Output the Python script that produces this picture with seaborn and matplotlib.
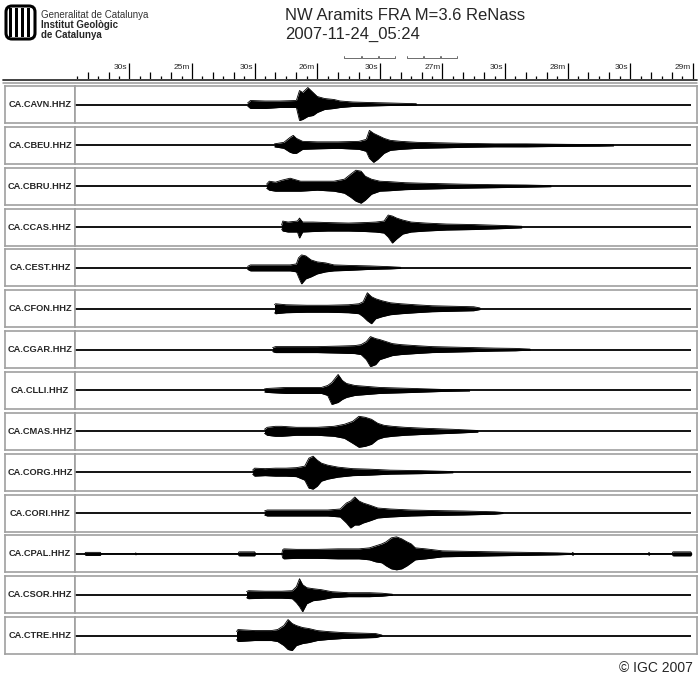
import pandas as pd
import matplotlib
matplotlib.use('Agg')
import matplotlib.pyplot as plt
from matplotlib.patches import FancyBboxPatch, Rectangle
import seaborn as sns


# stations (top to bottom)
stations = ['CA.CAVN.HHZ', 'CA.CBEU.HHZ', 'CA.CBRU.HHZ', 'CA.CCAS.HHZ', 'CA.CEST.HHZ',
            'CA.CFON.HHZ', 'CA.CGAR.HHZ', 'CA.CLLI.HHZ', 'CA.CMAS.HHZ', 'CA.CORG.HHZ',
            'CA.CORI.HHZ', 'CA.CPAL.HHZ', 'CA.CSOR.HHZ', 'CA.CTRE.HHZ']

# envelope: time (s after 05:24:00), upper / lower amplitude (px)
cavn_t = [86.6, 88, 95, 102, 110, 111.5, 113, 115.5, 118, 120, 123.5, 128, 131, 137, 145, 155, 167.5]
cavn_up = [1.5, 4, 3.5, 3.5, 4, 14, 12, 17, 12, 8, 6, 5, 3.5, 2.5, 2, 1.5, 0.8]
cavn_low = [1.5, 4, 4, 3, 3, 16, 15, 12, 11, 8, 5, 4, 3, 2, 1.5, 1, 0.5]

cbeu_t = [99.5, 101, 104, 107, 108.5, 110, 113, 120, 130, 140, 143.5, 145, 147, 149, 152, 155, 160,
          168, 180, 190, 205, 220, 240, 255, 262]
cbeu_up = [1.5, 2, 3, 8, 10, 7, 4, 3.5, 3.5, 4, 6, 15, 12, 10, 7, 5, 4, 3, 2.5, 2, 1.5, 1.5, 1, 0.8, 0.5]
cbeu_low = [1.5, 2, 3, 7, 8, 8, 4, 3.5, 3, 4, 6, 13, 17, 14, 8, 5, 4, 3, 2.5, 2, 1.5, 1.5, 1, 0.8, 0.5]

cbru_t = [95.7, 97, 100, 103, 107, 112, 120, 128, 133, 136, 138.5, 141, 143, 146, 150, 155, 162,
          170, 180, 190, 205, 220, 232]
cbru_up = [2, 5, 4, 6, 8, 5, 5, 5, 7, 12, 16, 15, 10, 7, 5, 4.5, 3.5, 3, 2.5, 2, 1.5, 1.2, 0.6]
cbru_low = [2, 4, 5, 5, 5, 5, 4, 5, 7, 11, 15, 17, 14, 8, 5, 4.5, 3.5, 3, 2.5, 2, 1.5, 1, 0.5]

ccas_t = [102.9, 103.5, 106, 110.5, 111.5, 113, 118, 125, 135, 143, 148, 152, 154, 156, 158, 161,
          165, 172, 182, 195, 210, 218]
ccas_up = [2, 6, 5, 6, 9, 5, 5, 4.5, 4, 4.5, 5, 6, 12, 11, 9, 7, 5, 4, 3, 2.5, 1.5, 0.8]
ccas_low = [2, 4, 5, 5, 11, 5, 4.5, 4, 4, 4.5, 5, 6, 10, 16, 12, 7, 5, 4, 3, 2.5, 1.5, 0.8]

cest_t = [86.6, 88, 95, 102, 107, 110, 111, 112.5, 114.5, 117, 120, 124, 128, 135, 145, 155, 160]
cest_up = [1.5, 3, 3, 3, 3, 4, 10, 13, 12, 8, 6, 5, 3, 2.5, 2, 1.2, 0.6]
cest_low = [1.5, 3, 3, 3, 3, 4, 9, 16, 11, 9, 6, 4, 3, 2.5, 1.5, 1, 0.5]

cfon_t = [99.5, 100, 105, 115, 125, 135, 140, 142, 144, 146, 148, 151, 155, 160, 167, 175, 185, 195, 198]
cfon_up = [4, 5, 4, 3.5, 3.5, 4, 5, 7, 16, 12, 10, 8, 6, 5, 4, 3, 2.5, 2, 0.8]
cfon_low = [4, 5, 4, 3.5, 3.5, 4, 5, 8, 12, 15, 10, 8, 6, 5, 4, 3, 2.5, 2, 0.8]

cgar_t = [98.6, 100, 110, 120, 130, 138, 141, 143.5, 145.5, 148, 150, 153, 156, 160, 167, 175, 185,
          195, 205, 215, 222]
cgar_up = [2, 3, 3, 3, 3.5, 4, 5, 8, 13, 11, 10, 8, 6, 5, 4, 3, 2.5, 2, 1.5, 1.2, 0.5]
cgar_low = [2, 3, 3, 3, 3.5, 4, 5, 10, 17, 15, 10, 8, 6, 5, 4, 3, 2.5, 2, 1.5, 1.2, 0.5]

clli_t = [94.7, 96, 105, 115, 122, 125, 127, 130, 132, 134, 138, 144, 150, 158, 166, 180, 193]
clli_up = [1.5, 2, 3, 3, 3, 5, 8, 16, 10, 7, 5, 4, 3, 2.5, 2, 1, 0.5]
clli_low = [1.5, 2, 3, 3, 3, 5, 14, 12, 9, 7, 5, 4, 3, 2.5, 2, 1, 0.5]

cmas_t = [94.7, 96, 100, 103, 110, 120, 128, 133, 137, 140, 143, 146, 149, 152, 156, 162, 172, 185, 197]
cmas_up = [2, 4, 5, 5, 4, 4, 5, 7, 10, 15, 14, 12, 8, 6, 5, 4, 3, 2, 0.8]
cmas_low = [2, 4, 5, 5, 4, 4, 5, 7, 12, 16, 15, 13, 8, 6, 5, 4, 3, 2, 0.8]

corg_t = [89, 90, 95, 100, 105, 110, 114, 116, 118, 120, 122, 125, 130, 137, 145, 155, 170, 185]
corg_up = [2, 4, 3.5, 4, 4, 4.5, 6, 14, 16, 12, 9, 7, 5, 3.5, 3, 2, 1.5, 0.6]
corg_low = [2, 4, 3.5, 4, 4, 4.5, 8, 16, 17, 14, 9, 7, 5, 3.5, 3, 2, 1.5, 0.6]

cori_t = [94.7, 96, 105, 115, 125, 131, 134, 136, 138, 140, 142, 145, 149, 155, 165, 175, 190, 205, 209]
cori_up = [2, 3, 3, 3, 3, 4, 10, 12, 16, 12, 10, 8, 5, 4, 3, 2.5, 2, 1.2, 0.5]
cori_low = [2, 3, 3, 3, 3, 4, 10, 15, 12, 12, 10, 8, 5, 4, 3, 2.5, 2, 1.2, 0.5]

cpal_t = [8.5, 9, 16, 16.5, 32.5, 33, 33.5, 82, 82.5, 90, 90.5, 103, 103.4, 104, 110, 120, 130, 140,
          145, 148, 151, 153, 155.5, 158, 160.5, 163, 165, 167, 172, 180, 192, 205, 220, 235, 242,
          242.5, 243, 278.5, 279, 279.5, 290, 290.5, 299, 299.5]
cpal_up = [0, 1.5, 1.5, 0, 0, 1, 0, 0, 2, 2, 0, 0, 4, 5, 4.5, 4.5, 5, 5,
           6, 8, 10, 12, 16, 17, 15, 12, 10, 6, 5, 3, 2.5, 2, 1.5, 1, 0.5,
           1.5, 0, 0, 1.5, 0, 0, 2, 2, 0]
cpal_low = [0, 1.5, 1.5, 0, 0, 1, 0, 0, 2, 2, 0, 0, 4, 5, 4.5, 4.5, 5, 5,
            6, 8, 9, 12, 15, 16, 15, 12, 9, 6, 5, 3, 2.5, 2, 1.5, 1, 0.5,
            1.5, 0, 0, 1.5, 0, 0, 2, 2, 0]

csor_t = [86.1, 87, 95, 103, 108, 110, 111.5, 113, 115, 118, 122, 127, 135, 145, 151, 156]
csor_up = [3, 4, 3.5, 3.5, 4, 8, 16, 10, 7, 6, 5, 3, 2, 2, 1.5, 0.5]
csor_low = [3, 4, 3.5, 3.5, 4, 8, 12, 17, 9, 6, 5, 3, 2, 2, 1.5, 0.5]

ctre_t = [81.3, 82, 90, 98, 101, 104, 106, 108, 110, 113, 116, 120, 125, 132, 140, 148, 151]
ctre_up = [4, 6, 5, 5, 6, 10, 16, 12, 10, 8, 7, 5, 4, 3, 2.5, 2, 0.5]
ctre_low = [4, 6, 5, 5, 6, 10, 14, 15, 10, 8, 7, 5, 4, 3, 2.5, 2, 0.5]

traces = [(cavn_t, cavn_up, cavn_low), (cbeu_t, cbeu_up, cbeu_low), (cbru_t, cbru_up, cbru_low),
          (ccas_t, ccas_up, ccas_low), (cest_t, cest_up, cest_low), (cfon_t, cfon_up, cfon_low),
          (cgar_t, cgar_up, cgar_low), (clli_t, clli_up, clli_low), (cmas_t, cmas_up, cmas_low),
          (corg_t, corg_up, corg_low), (cori_t, cori_up, cori_low), (cpal_t, cpal_up, cpal_low),
          (csor_t, csor_up, csor_low), (ctre_t, ctre_up, ctre_low)]

# time axis
tick_major = [30, 60, 90, 120, 150, 180, 210, 240, 270, 300]
tick_labels = ['30s', '25m', '30s', '26m', '30s', '27m', '30s', '28m', '30s', '29m']
bracket_start = [132.6, 141.3, 149.4, 162.9, 171.0, 179.2]
bracket_end = [140.8, 149.0, 157.1, 170.5, 178.7, 186.8]

T0, T1 = 4.4, 302.0

sns.set_style('white')
plt.rcParams['font.family'] = ['Liberation Sans', 'DejaVu Sans']

W, H = 700, 683
fig = plt.figure(figsize=(7, 6.83), dpi=100)


def px_axes(x0, y0, w, h):
    return fig.add_axes([x0 / W, 1 - (y0 + h) / H, w / W, h / H])


# header / decorations layer
bg = px_axes(0, 0, W, H)
bg.set_xlim(0, W)
bg.set_ylim(H, 0)
bg.axis('off')

bg.add_patch(FancyBboxPatch((6, 6), 29, 33, boxstyle='round,pad=0,rounding_size=6',
                            fc='white', ec='black', lw=2.2))
for bx in [10.5, 16.5, 22.5, 28.5]:
    bg.add_patch(Rectangle((bx - 1.9, 8), 3.8, 29, fc='black', ec='none'))

bg.text(41, 14.5, 'Generalitat de Catalunya', fontsize=7, color='#333333', va='center')
bg.text(41, 24.5, 'Institut Geològic', fontsize=7, fontweight='bold', va='center')
bg.text(41, 34.5, 'de Catalunya', fontsize=7, fontweight='bold', va='center')

bg.text(285, 16, 'NW Aramits FRA M=3.6 ReNass', fontsize=12, va='center')
bg.text(285, 34, '2007-11-24_05:24', fontsize=12, va='center')

bg.text(693, 668, '© IGC 2007', fontsize=10, ha='right', va='center')

bg.plot([3, 697], [79.8, 79.8], color='#333333', lw=1.3)
bg.plot([3, 697], [82.6, 82.6], color='#999999', lw=1.1)

# time ruler
ax_t = px_axes(76, 50, 621, 29)
ax_t.set_xlim(T0, T1)
ax_t.set_ylim(79, 50)
ax_t.axis('off')
for t in range(5, 301, 5):
    if t % 30 == 0:
        top = 63
    elif t % 10 == 0:
        top = 72
    else:
        top = 75.5
    ax_t.vlines(t, top, 79, color='black', lw=0.9)
for t, lab in zip(tick_major, tick_labels):
    ax_t.text(t - 0.9, 67.5, lab, fontsize=6, ha='right', va='center')
for s, e in zip(bracket_start, bracket_end):
    ax_t.plot([s, s, e, e], [55.5, 58, 58, 55.5], color='#555555', lw=0.6)

# one row per station
for i, (name, (tt, up, low)) in enumerate(zip(stations, traces)):
    top = 86 + i * 40.85

    axl = px_axes(5, top, 70, 37)
    axl.set_xticks([])
    axl.set_yticks([])
    axl.text(0.5, 0.5, name, fontsize=6.7, fontweight='bold', ha='center', va='center',
             transform=axl.transAxes)

    ax = px_axes(75, top, 622, 37)
    ax.set_xlim(T0 - 0.5, T1)
    ax.set_ylim(-18.5, 18.5)
    ax.hlines(0, T0 - 0.5, 299.0, color='black', lw=1.3)

    df = pd.DataFrame({'t': tt, 'up': up, 'low': [-v for v in low]})
    ax.fill_between(df['t'], df['low'], df['up'], color='black', lw=0)
    sns.lineplot(data=df, x='t', y='up', ax=ax, color='black', lw=0.6)
    sns.lineplot(data=df, x='t', y='low', ax=ax, color='black', lw=0.6)
    ax.set_xticks([])
    ax.set_yticks([])
    ax.set_xlabel('')
    ax.set_ylabel('')

    for a in (axl, ax):
        for sp in a.spines.values():
            sp.set_color('#a0a0a0')
            sp.set_linewidth(1.2)

fig.savefig('out.png', dpi=100)
